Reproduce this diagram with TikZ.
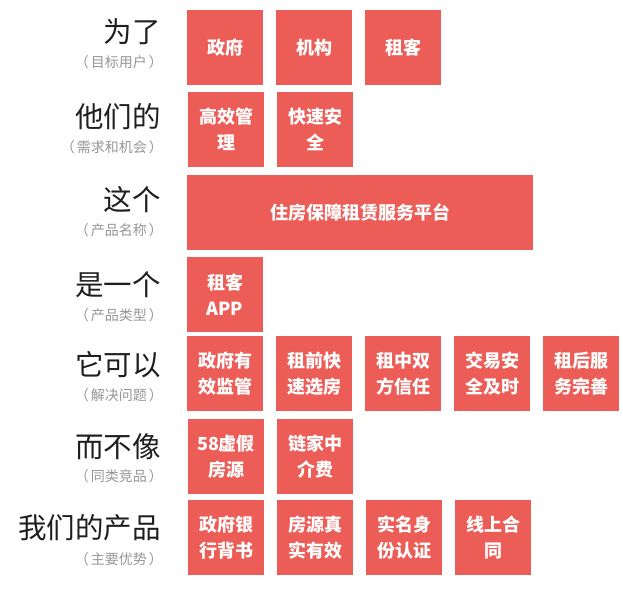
\documentclass[tikz,border=0pt]{standalone}
\usepackage{fontspec}
\setmainfont{Noto Sans CJK SC}
\usepackage{tikz}
\usetikzlibrary{positioning}
\definecolor{tilered}{RGB}{236,93,87}
\definecolor{notegray}{RGB}{150,150,150}

\begin{document}
\begin{tikzpicture}[
 x=1pt,y=-1pt,
 node distance=13pt,
 tile/.style={fill=tilered,text=white,font=\fontsize{18}{26}\selectfont\bfseries,minimum width=76pt,minimum height=75pt,align=center,inner sep=0pt,outer sep=0pt,anchor=north west},
 big/.style={anchor=east,inner sep=0pt,font=\fontsize{28.5}{30}\selectfont,text=black!88},
 note/.style={anchor=east,inner sep=0pt,font=\fontsize{14}{16}\selectfont,text=notegray}
]
\useasboundingbox (0,0) rectangle (623,594);
% left column
\node[big] (la) at (161,32) {为了};
\node[note] (na) at (163,62) {（\hspace{2pt}目标用户\hspace{2pt}）};
\node[big] (lb) at (161,117) {他们的};
\node[note] (nb) at (163,147) {（\hspace{2pt}需求和机会\hspace{2pt}）};
\node[big] (lc) at (161,200) {这个};
\node[note] (nc) at (163,230) {（\hspace{2pt}产品名称\hspace{2pt}）};
\node[big] (ld) at (161,285) {是一个};
\node[note] (nd) at (163,315) {（\hspace{2pt}产品类型\hspace{2pt}）};
\node[big] (le) at (161,365) {它可以};
\node[note] (ne) at (163,395) {（\hspace{2pt}解决问题\hspace{2pt}）};
\node[big] (lf) at (161,447) {而不像};
\node[note] (nf) at (163,476) {（\hspace{2pt}同类竞品\hspace{2pt}）};
\node[big] (lg) at (161,528) {我们的产品};
\node[note] (ng) at (163,559) {（\hspace{2pt}主要优势\hspace{2pt}）};
% tiles
\node[tile] (a1) at (187,10) {政府};
\node[tile,right=of a1] (a2) {机构};
\node[tile,right=of a2] (a3) {租客};
\node[tile] (b1) at (188,92) {高效管\\理};
\node[tile,right=of b1] (b2) {快速安\\全};
\node[tile,minimum width=346pt] (c1) at (187,175) {住房保障租赁服务平台};
\node[tile] (d1) at (187,257) {租客\\APP};
\node[tile] (e1) at (187,336) {政府有\\效监管};
\node[tile,right=of e1] (e2) {租前快\\速选房};
\node[tile,right=of e2] (e3) {租中双\\方信任};
\node[tile,right=of e3] (e4) {交易安\\全及时};
\node[tile,right=of e4] (e5) {租后服\\务完善};
\node[tile] (f1) at (188,419) {58虚假\\房源};
\node[tile,right=of f1] (f2) {链家中\\介费};
\node[tile] (g1) at (188,500) {政府银\\行背书};
\node[tile,right=of g1] (g2) {房源真\\实有效};
\node[tile,right=of g2] (g3) {实名身\\份认证};
\node[tile,right=of g3] (g4) {线上合\\同};
\end{tikzpicture}
\end{document}
